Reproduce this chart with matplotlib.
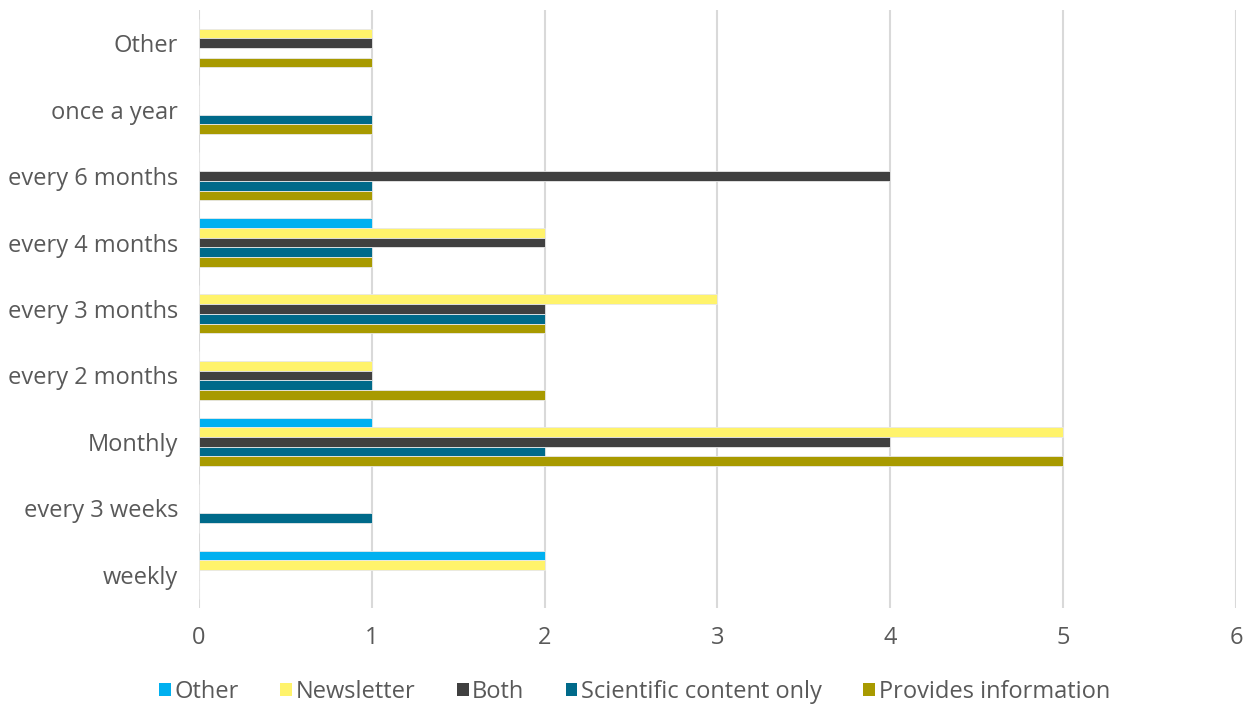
import numpy as np
import matplotlib
matplotlib.use("Agg")
import matplotlib.pyplot as plt

# frequency categories, bottom to top
categories = ["weekly", "every 3 weeks", "Monthly", "every 2 months",
              "every 3 months", "every 4 months", "every 6 months",
              "once a year", "Other"]

series_names = ["Other", "Newsletter", "Both", "Scientific content only",
                "Provides information"]
other = [2, 0, 1, 0, 0, 1, 0, 0, 0]
newsletter = [2, 0, 5, 1, 3, 2, 0, 0, 1]
both = [0, 0, 4, 1, 2, 2, 4, 0, 1]
scientific = [0, 1, 2, 1, 2, 1, 1, 1, 0]
provides = [0, 0, 5, 2, 2, 1, 1, 1, 1]

colors = ["#00B0F0", "#FFF36B", "#404040", "#006A8A", "#A89A00"]
text_color = "#595959"

plt.rcParams["font.family"] = ["Open Sans", "DejaVu Sans"]

fig = plt.figure(figsize=(12.45, 7.04), dpi=100)
ax = fig.add_axes([0.1598, 0.1364, 0.833, 0.8494])

y = np.arange(len(categories))
h = 0.146
offsets = [2 * h, h, 0, -h, -2 * h]
values = [other, newsletter, both, scientific, provides]

for name, vals, off, col in zip(series_names, values, offsets, colors):
    ax.barh(y + off, vals, height=h, color=col, edgecolor="#e8e8e8",
            linewidth=0.6, label=name, zorder=3)

ax.set_xlim(0, 6)
ax.set_ylim(-0.5, len(categories) - 0.5)
ax.set_xticks(range(7))
ax.set_yticks(y)
ax.set_yticklabels(categories)
ax.grid(axis="x", color="#D9D9D9", linewidth=1.5, zorder=0)
ax.tick_params(axis="both", length=0, labelsize=17, colors=text_color)
ax.tick_params(axis="x", pad=13)
ax.tick_params(axis="y", pad=15)
for s in ax.spines.values():
    s.set_visible(False)

leg = ax.legend(loc="center", bbox_to_anchor=(0.42, -0.14), ncol=5,
                frameon=False, fontsize=17, handlelength=0.5,
                handleheight=0.5, handletextpad=0.15, columnspacing=1.75,
                labelcolor=text_color)
for p in leg.get_patches():
    p.set_edgecolor("none")

fig.savefig("out.png", dpi=100)
